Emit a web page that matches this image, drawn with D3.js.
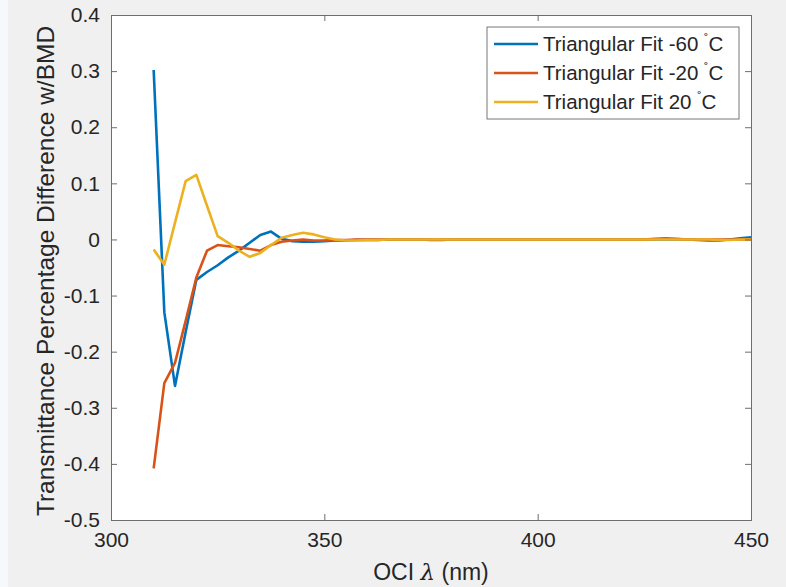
<!DOCTYPE html>
<html>
<head>
<meta charset="utf-8">
<script src="https://cdn.jsdelivr.net/npm/d3@7"></script>
<style>
  html, body { margin: 0; padding: 0; background: #f0f0f0; }
  svg { display: block; }
  text { font-family: "Liberation Sans", Arial, Helvetica, sans-serif; fill: #262626; }
</style>
</head>
<body>
<svg id="chart" width="786" height="587"></svg>
<script>
// Wavelength grid (nm)
const wavelengths = [
  310, 312.5, 315, 317.5, 320, 322.5, 325, 327.5, 330, 332.5,
  335, 337.5, 340, 342.5, 345, 347.5, 350, 352.5, 355, 357.5,
  360, 362.5, 365, 367.5, 370, 372.5, 375, 377.5, 380, 382.5,
  385, 387.5, 390, 392.5, 395, 397.5, 400, 402.5, 405, 407.5,
  410, 412.5, 415, 417.5, 420, 422.5, 425, 427.5, 430, 432.5,
  435, 437.5, 440, 442.5, 445, 447.5, 450
];

// Transmittance percentage difference vs. BMD for each temperature fit
const fitMinus60 = [
  0.302, -0.130, -0.261, -0.165, -0.072, -0.058, -0.046, -0.032, -0.020, -0.006,
  0.008, 0.014, 0.001, -0.003, -0.004, -0.004, -0.003, -0.002, -0.002, -0.001,
  -0.001, -0.001, 0.000, 0.000, 0.000, 0.000, -0.001, -0.001, 0.000, 0.000,
  0.000, 0.000, 0.000, 0.000, 0.000, 0.000, 0.000, 0.000, 0.000, 0.000,
  0.000, 0.000, 0.000, 0.000, 0.000, 0.000, 0.000, 0.000, 0.000, 0.000,
  0.000, -0.001, -0.002, -0.002, 0.000, 0.002, 0.004
];
const fitMinus20 = [
  -0.408, -0.256, -0.220, -0.145, -0.068, -0.020, -0.010, -0.012, -0.014, -0.017,
  -0.020, -0.010, -0.004, -0.002, 0.000, -0.002, -0.002, -0.001, -0.001, 0.000,
  0.000, 0.000, 0.000, 0.000, 0.000, 0.000, 0.000, 0.000, 0.000, 0.000,
  0.000, 0.000, 0.000, 0.000, 0.000, 0.000, 0.000, 0.000, 0.000, 0.000,
  0.000, 0.000, 0.000, 0.000, 0.000, 0.000, 0.000, 0.001, 0.002, 0.001,
  0.000, 0.000, 0.000, 0.000, 0.000, 0.000, 0.000
];
const fitPlus20 = [
  -0.018, -0.045, 0.030, 0.104, 0.115, 0.060, 0.006, -0.006, -0.020, -0.031,
  -0.024, -0.010, 0.003, 0.008, 0.012, 0.009, 0.004, 0.000, -0.002, -0.002,
  -0.001, -0.001, 0.000, 0.000, 0.000, 0.000, 0.000, 0.000, 0.000, 0.000,
  0.000, 0.000, 0.000, 0.000, 0.000, 0.000, 0.000, 0.000, 0.000, 0.000,
  0.000, 0.000, 0.000, 0.000, 0.000, 0.000, 0.000, 0.000, 0.000, 0.000,
  0.000, 0.000, 0.000, -0.001, -0.001, 0.000, 0.000
];

const seriesNames = ["Triangular Fit -60 ", "Triangular Fit -20 ", "Triangular Fit 20 "];
const seriesColors = ["#0072BD", "#D95319", "#EDB120"];
const seriesValues = [fitMinus60, fitMinus20, fitPlus20];

const xTicks = [300, 350, 400, 450];
const yTicks = [-0.5, -0.4, -0.3, -0.2, -0.1, 0, 0.1, 0.2, 0.3, 0.4];
const yTickLabels = ["-0.5", "-0.4", "-0.3", "-0.2", "-0.1", "0", "0.1", "0.2", "0.3", "0.4"];

const svg = d3.select("#chart");
const W = 786, H = 587;
const plot = { left: 111, right: 751, top: 15, bottom: 520 };

// faint strip along the left edge
svg.append("rect").attr("x", 0).attr("y", 0).attr("width", 8).attr("height", H).attr("fill", "#f6f8fc");

const x = d3.scaleLinear().domain([300, 450]).range([plot.left, plot.right]);
const y = d3.scaleLinear().domain([-0.5, 0.4]).range([plot.bottom, plot.top]);

// plot area
svg.append("rect")
  .attr("x", plot.left).attr("y", plot.top)
  .attr("width", plot.right - plot.left).attr("height", plot.bottom - plot.top)
  .attr("fill", "#ffffff");

const axisColor = "#6e6e6e";
const tickLen = 6;

// clip lines to the plot box
svg.append("clipPath").attr("id", "plotclip")
  .append("rect")
  .attr("x", plot.left).attr("y", plot.top)
  .attr("width", plot.right - plot.left).attr("height", plot.bottom - plot.top);

const line = d3.line()
  .x((d, i) => x(wavelengths[i]))
  .y(d => y(d));

const lines = svg.append("g").attr("clip-path", "url(#plotclip)");
seriesValues.forEach((vals, k) => {
  lines.append("path")
    .datum(vals)
    .attr("d", line)
    .attr("fill", "none")
    .attr("stroke", seriesColors[k])
    .attr("stroke-width", 2.6)
    .attr("stroke-linejoin", "round");
});

// axes: bottom and left with labels, top and right as mirrored inward ticks
const bottomAxis = d3.axisBottom(x).tickValues(xTicks).tickSize(-tickLen).tickPadding(12).tickFormat(d3.format("d"));
const topAxis = d3.axisTop(x).tickValues(xTicks).tickSize(-tickLen).tickFormat("");
const leftAxis = d3.axisLeft(y).tickValues(yTicks).tickSize(-tickLen).tickPadding(11)
  .tickFormat((d, i) => yTickLabels[i]);
const rightAxis = d3.axisRight(y).tickValues(yTicks).tickSize(-tickLen).tickFormat("");

function styleAxis(g) {
  g.select(".domain").attr("stroke", axisColor).attr("stroke-width", 1);
  g.selectAll(".tick line").attr("stroke", axisColor).attr("stroke-width", 1);
  g.selectAll(".tick text")
    .attr("fill", "#262626")
    .style("font-size", "21px")
    .style("font-family", "'Liberation Sans', Arial, sans-serif");
}

svg.append("g").attr("transform", `translate(0,${plot.bottom})`).call(bottomAxis).call(styleAxis);
svg.append("g").attr("transform", `translate(0,${plot.top})`).call(topAxis).call(styleAxis);
svg.append("g").attr("transform", `translate(${plot.left},0)`).call(leftAxis).call(styleAxis);
svg.append("g").attr("transform", `translate(${plot.right},0)`).call(rightAxis).call(styleAxis);

// axis titles
const xTitle = svg.append("text")
  .attr("x", 431)
  .attr("y", 580)
  .attr("text-anchor", "middle")
  .style("font-size", "23px");
xTitle.append("tspan").text("OCI ");
xTitle.append("tspan").style("font-style", "italic").style("font-family", "'DejaVu Serif', serif").text("λ");
xTitle.append("tspan").text(" (nm)");

svg.append("text")
  .attr("transform", `translate(54,271) rotate(-90)`)
  .attr("text-anchor", "middle")
  .style("font-size", "24.5px")
  .text("Transmittance Percentage Difference w/BMD");

// legend
const lg = { x: 487, y: 27, w: 252, h: 92 };
svg.append("rect")
  .attr("x", lg.x).attr("y", lg.y).attr("width", lg.w).attr("height", lg.h)
  .attr("fill", "#ffffff").attr("stroke", "#777777").attr("stroke-width", 1);

seriesNames.forEach((name, k) => {
  const cy = 44 + k * 29;
  svg.append("line")
    .attr("x1", lg.x + 7).attr("x2", lg.x + 51)
    .attr("y1", cy).attr("y2", cy)
    .attr("stroke", seriesColors[k]).attr("stroke-width", 2.6);
  const t = svg.append("text")
    .attr("x", lg.x + 56).attr("y", cy + 7)
    .style("font-size", "20.5px");
  t.append("tspan").text(name);
  t.append("tspan").attr("dy", -8).style("font-size", "13px").text("˚");
  t.append("tspan").attr("dy", 8).text("C");
});
</script>
</body>
</html>
